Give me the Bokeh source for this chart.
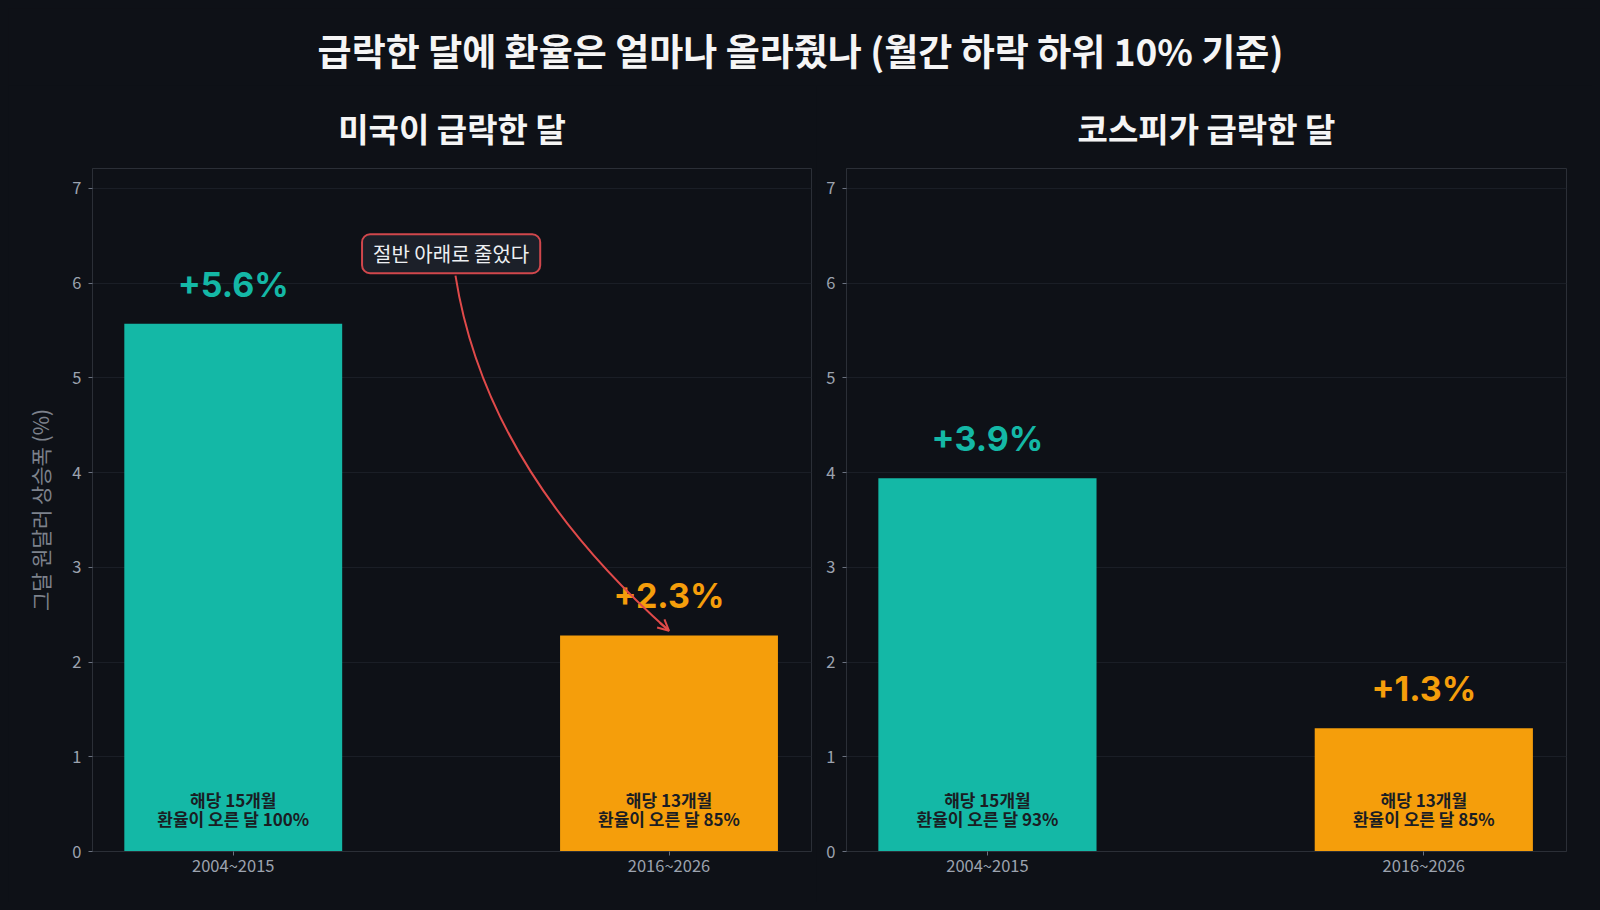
from bokeh.plotting import figure
from bokeh.layouts import column, row
from bokeh.models import Range1d, FixedTicker, Label, Arrow, OpenHead, ColumnDataSource
from bokeh.core.properties import value
from bokeh.embed import file_html
from bokeh.resources import INLINE

# ---------------- data ----------------
main_title = "급락한 달에 환율은 얼마나 올라줬나 (월간 하락 하위 10% 기준)"
panel_titles = ["미국이 급락한 달", "코스피가 급락한 달"]
periods = ["2004~2015", "2016~2026"]
us_rise = [5.57, 2.28]
kospi_rise = [3.94, 1.30]
us_months = [15, 13]
kospi_months = [15, 13]
us_up_share = [100, 85]
kospi_up_share = [93, 85]
y_ticks = [0, 1, 2, 3, 4, 5, 6, 7]
y_label = "그달 원달러 상승폭 (%)"
note_text = "절반 아래로 줄었다"
bar_colors = ["#14b8a6", "#f59e0b"]

# ---------------- style ----------------
BG = "#0e1117"
FONT = "Noto Sans CJK KR"
NUMFONT = "Inter"
FRAME = "#2b2f37"
GRID = "#1a1e26"
TICKTXT = "#9ca3af"
RED = "#e04a4a"


def make_panel(title, rises, months, shares, left):
    p = figure(
        width=808 if left else 776, height=817,
        x_range=Range1d(-0.323, 1.327), y_range=Range1d(0, 7.21),
        output_backend="svg", toolbar_location=None,
        min_border_left=84 if left else 30, min_border_right=5 if left else 26,
        min_border_top=81, min_border_bottom=51,
        background_fill_color=BG, border_fill_color=BG,
        outline_line_color=FRAME,
    )
    p.title.text = title
    p.title.text_font = FONT
    p.title.text_font_size = "33px"
    p.title.text_font_style = "bold"
    p.title.text_color = "#f5f5f5"
    p.title.align = "center"
    p.title.standoff = 33

    xs = list(range(len(periods)))
    src = ColumnDataSource(dict(
        x=xs,
        top=rises,
        color=bar_colors,
        ly=[v + 0.42 for v in rises],
        lbl=["+%.1f%%" % v for v in rises],
        inner=["해당 %d개월\n환율이 오른 달 %d%%" % (m, s) for m, s in zip(months, shares)],
    ))
    p.vbar(x="x", top="top", bottom=0, width=0.5, fill_color="color", line_color=None, source=src)
    p.text(x="x", y="ly", text="lbl", text_color="color", text_font=value(NUMFONT),
           text_font_style="bold", text_font_size="34px", text_align="center",
           text_baseline="middle", source=src)
    p.text(x="x", y=0.45, text="inner", text_color="#1a1d23", text_font=value(FONT),
           text_font_style="bold", text_font_size="17px", text_align="center",
           text_baseline="middle", text_line_height=0.78, source=src)

    p.xaxis.ticker = FixedTicker(ticks=xs)
    p.xaxis.major_label_overrides = {i: periods[i] for i in xs}
    p.yaxis.ticker = FixedTicker(ticks=y_ticks)
    for ax in p.axis:
        ax.axis_line_color = FRAME
        ax.major_tick_line_color = "#6b7280"
        ax.major_tick_in = 0
        ax.major_tick_out = 4
        ax.minor_tick_line_color = None
        ax.major_label_text_color = TICKTXT
        ax.major_label_text_font = FONT
        ax.major_label_text_font_size = "16.5px"
    p.xaxis.major_label_standoff = -3
    p.yaxis.major_label_standoff = 7
    p.xgrid.visible = False
    p.ygrid.grid_line_color = GRID
    p.ygrid.grid_line_width = 1
    if left:
        p.yaxis.axis_label = y_label
        p.yaxis.axis_label_text_font = FONT
        p.yaxis.axis_label_text_font_size = "21px"
        p.yaxis.axis_label_text_font_style = "normal"
        p.yaxis.axis_label_text_color = "#7d828c"
        p.yaxis.axis_label_standoff = 14
    return p


p1 = make_panel(panel_titles[0], us_rise, us_months, us_up_share, True)
p2 = make_panel(panel_titles[1], kospi_rise, kospi_months, kospi_up_share, False)

# annotation on the US panel: curved arrow from the note down to the recent bar
note_x, note_y = 0.5, 6.31
arc_start = (0.51, 6.08)
arc_ctrl = (0.579, 4.05)
arc_end = (1.0, us_rise[1] + 0.05)
p1.quadratic(x0=[arc_start[0]], y0=[arc_start[1]], x1=[arc_end[0]], y1=[arc_end[1]],
             cx=[arc_ctrl[0]], cy=[arc_ctrl[1]], line_color=RED, line_width=2)
head_from = (arc_end[0] - 0.05 * (arc_end[0] - arc_ctrl[0]),
             arc_end[1] - 0.05 * (arc_end[1] - arc_ctrl[1]))
p1.add_layout(Arrow(end=OpenHead(size=11, line_color=RED, line_width=2),
                    x_start=head_from[0], y_start=head_from[1],
                    x_end=arc_end[0], y_end=arc_end[1],
                    line_color=RED, line_width=2))
p1.add_layout(Label(x=note_x, y=note_y, text=note_text, text_align="center",
                    text_baseline="middle", text_font=FONT, text_font_size="20px",
                    text_color="#eef0f3", background_fill_color="#1c2029",
                    border_line_color="#d0474c", border_line_width=2, border_radius=8,
                    padding=(11, 5)))

# header with the main title
header = figure(width=1584, height=77, x_range=Range1d(0, 1), y_range=Range1d(0, 1),
                output_backend="svg", toolbar_location=None, min_border=0,
                x_axis_location=None, y_axis_location=None,
                background_fill_color=BG, border_fill_color=BG, outline_line_color=None)
header.grid.visible = False
header.add_layout(Label(x=0.5, y=0.455, text=main_title, text_align="center",
                        text_baseline="middle", text_font=FONT, text_font_size="37px",
                        text_font_style="bold", text_color="#f5f5f5"))

layout = column(header, row(p1, p2))
html = file_html(layout, INLINE, title="chart")
html = html.replace("</head>",
                    "<style>html{background:%s;} body{background:%s; margin:8px !important;}</style></head>" % (BG, BG), 1)
open("out.html", "w").write(html)
